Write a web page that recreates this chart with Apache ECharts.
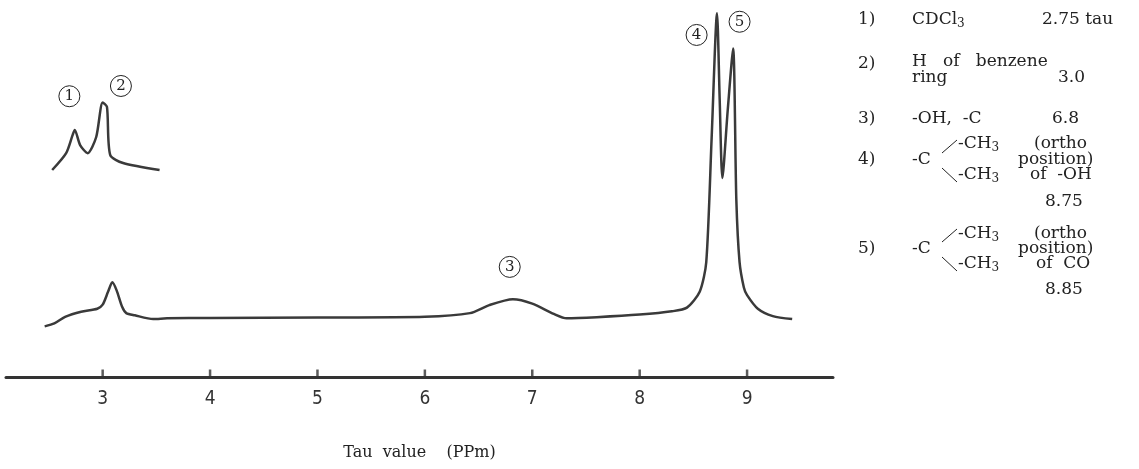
<!DOCTYPE html>
<html>
<head>
<meta charset="utf-8">
<script src="https://cdn.jsdelivr.net/npm/echarts@6/dist/echarts.min.js"></script>
<style>
  html, body { margin: 0; padding: 0; background: #fff; }
  #main { width: 1139px; height: 469px; }
</style>
</head>
<body>
<div id="main"></div>
<script>
const chart = echarts.init(document.getElementById('main'));

// 主谱线 (tau, 强度)
const mainTau = [2.46, 2.55, 2.65, 2.8, 2.95, 3.0, 3.05, 3.09, 3.13, 3.18, 3.22, 3.3, 3.47, 3.6, 4.0, 5.0, 6.0,
  6.42, 6.6, 6.82, 7.0, 7.2, 7.32, 7.6, 8.0, 8.3, 8.44, 8.56, 8.62, 8.67, 8.72, 8.745, 8.77, 8.82, 8.87,
  8.9, 8.93, 8.97, 9.0, 9.1, 9.24, 9.42];
const mainVal = [13.8, 14.6, 16.4, 17.8, 18.6, 19.7, 23.2, 25.8, 23.6, 19.2, 17.4, 16.8, 15.8, 16.0, 16.1, 16.2, 16.4,
  17.4, 19.6, 21.2, 20.0, 17.2, 16.0, 16.3, 17.0, 17.9, 18.9, 23.3, 31.3, 65.1, 99.1, 75.6, 54.2, 72.8, 89.5,
  48.2, 31.3, 24.4, 22.3, 18.6, 16.6, 15.8];

// 放大的 1)、2) 峰
const insetTau = [2.53, 2.66, 2.72, 2.74, 2.79, 2.86, 2.94, 3.0, 3.04, 3.07, 3.19, 3.53];
const insetVal = [56.4, 61.0, 65.9, 67.3, 63.2, 61.0, 65.4, 74.8, 73.6, 60.5, 58.3, 56.4];

// 峰编号
const peakNames = ['1', '2', '3', '4', '5'];
const peakTau = [2.69, 3.17, 6.79, 8.53, 8.93];
const peakVal = [76.5, 79.3, 30.0, 93.2, 96.8];

// x 轴刻度
const tickValues = [3, 4, 5, 6, 7, 8, 9];

const serif = "'DejaVu Serif', 'Liberation Serif', serif";
const lineColor = '#3a3a3a';

function pairs(xs, ys) {
  return xs.map((x, i) => [x, ys[i]]);
}

// 右侧说明文字
function txt(left, top, text) {
  return {
    type: 'text',
    left: left,
    top: top + 3,
    style: {
      text: text,
      font: '17px ' + serif,
      fill: '#222',
      rich: {
        s: { fontSize: 12, fontFamily: serif, fill: '#222', padding: [8, 0, 0, 0] }
      }
    }
  };
}
function slash(x1, y1, x2, y2) {
  return { type: 'line', shape: { x1: x1, y1: y1 + 3, x2: x2, y2: y2 + 3 }, style: { stroke: '#222', lineWidth: 1 } };
}

chart.setOption({
  animation: false,
  backgroundColor: '#fff',
  grid: { left: 6, width: 827, top: 10, height: 367 },
  xAxis: {
    type: 'value',
    min: 2.1,
    max: 9.8,
    splitLine: { show: false },
    axisLine: { show: true, lineStyle: { color: '#333', width: 3 } },
    axisTick: { show: false },
    axisLabel: {
      customValues: tickValues,
      margin: 13,
      color: '#333',
      fontSize: 19,
      fontFamily: "'Liberation Sans Narrow', 'DejaVu Sans Condensed', sans-serif"
    },
    name: 'Tau  value    (PPm)',
    nameLocation: 'middle',
    nameGap: 68,
    nameTextStyle: { fontFamily: serif, fontSize: 16, color: '#222' }
  },
  yAxis: { type: 'value', min: 0, max: 100, show: false },
  series: [
    {
      type: 'line',
      data: pairs(mainTau, mainVal),
      symbol: 'none',
      smooth: 0.25,
      lineStyle: { color: lineColor, width: 2.5 },
      markPoint: {
        symbol: 'circle',
        symbolSize: 21,
        itemStyle: { color: 'rgba(0,0,0,0)', borderColor: '#222', borderWidth: 1 },
        label: { show: true, position: 'inside', formatter: '{b}', color: '#222', fontSize: 15, fontFamily: serif },
        data: peakNames.map((n, i) => ({ name: n, coord: [peakTau[i], peakVal[i]] }))
      }
    },
    {
      type: 'line',
      data: pairs(insetTau, insetVal),
      symbol: 'none',
      smooth: 0.25,
      lineStyle: { color: lineColor, width: 2.5 }
    },
    {
      // 刻度小竖线
      type: 'scatter',
      data: tickValues.map(v => [v, 0]),
      symbol: 'rect',
      symbolSize: [2.5, 7],
      symbolOffset: [0, -4],
      clip: false,
      silent: true,
      itemStyle: { color: '#333' }
    }
  ],
  graphic: [
    txt(858, 8, '1)'), txt(912, 8, '{a|CDCl}{s|3}'), txt(1042, 8, '2.75 tau'),
    txt(858, 52, '2)'), txt(912, 50, 'H   of   benzene'), txt(912, 66, 'ring'), txt(1058, 66, '3.0'),
    txt(858, 107, '3)'), txt(912, 107, '-OH,  -C'), txt(1052, 107, '6.8'),
    txt(958, 132, '-CH{s|3}'), txt(1034, 132, '(ortho'),
    txt(858, 148, '4)'), txt(912, 148, '-C'), txt(1018, 148, 'position)'),
    txt(958, 163, '-CH{s|3}'), txt(1030, 163, 'of  -OH'),
    txt(1045, 190, '8.75'),
    slash(942, 150, 957, 137), slash(942, 165, 957, 179),
    txt(958, 222, '-CH{s|3}'), txt(1034, 222, '(ortho'),
    txt(858, 237, '5)'), txt(912, 237, '-C'), txt(1018, 237, 'position)'),
    txt(958, 252, '-CH{s|3}'), txt(1036, 252, 'of  CO'),
    txt(1045, 278, '8.85'),
    slash(942, 239, 957, 226), slash(942, 254, 957, 268)
  ]
});
</script>
</body>
</html>
